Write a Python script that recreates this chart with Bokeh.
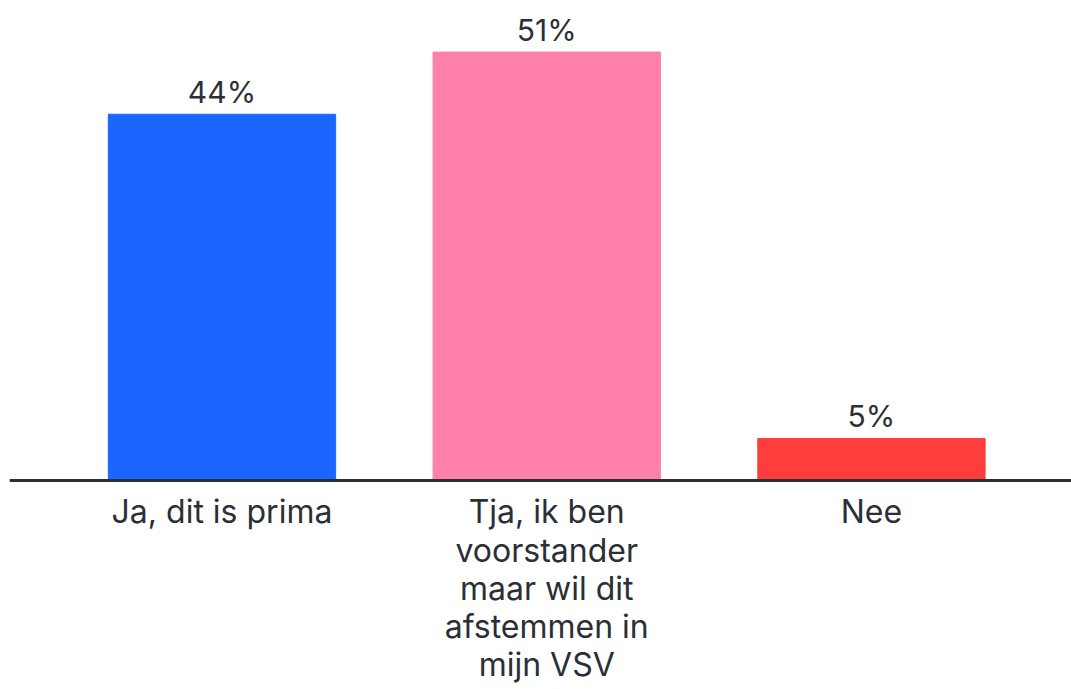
from bokeh.plotting import figure
from bokeh.models import Range1d, Span, ColumnDataSource
from bokeh.core.properties import value
from bokeh.embed import file_html
from bokeh.resources import INLINE

categories = ["Ja, dit is prima",
              "Tja, ik ben\nvoorstander\nmaar wil dit\nafstemmen in\nmijn VSV",
              "Nee"]
values = [43.6, 51.0, 5.0]
colors = ["#1a66ff", "#ff80aa", "#ff3d3d"]
value_labels = [f"{round(v)}%" for v in values]

idx = list(range(len(categories)))
src = ColumnDataSource(dict(x=idx, top=values, color=colors,
                            cat=categories, lab=value_labels,
                            zero=[0] * len(idx)))

p = figure(width=1071, height=689, output_backend="svg", toolbar_location=None,
           x_range=Range1d(-0.6543, 2.616), y_range=Range1d(-24.88, 57.14),
           min_border=0, min_border_left=9, min_border_right=0,
           min_border_top=0, min_border_bottom=0)
p.axis.visible = False
p.grid.visible = False
p.outline_line_color = None
p.background_fill_color = "white"
p.border_fill_color = "white"

p.vbar(x="x", top="top", bottom=0, width=0.70, color="color", source=src)
p.add_layout(Span(location=0, dimension="width", line_color="#2b2f36", line_width=3))

font = value("Inter")
p.text(x="x", y="top", text="lab", source=src, text_align="center",
       text_baseline="alphabetic", y_offset=-22, text_font=font,
       text_font_size="30px", text_color="#2b2f36")
p.text(x="x", y="zero", text="cat", source=src, text_align="center",
       text_baseline="top", y_offset=12, text_font=font,
       text_font_size="32px", text_color="#2b2f36", text_line_height=0.98)

open("out.html", "w").write(file_html(p, INLINE))
